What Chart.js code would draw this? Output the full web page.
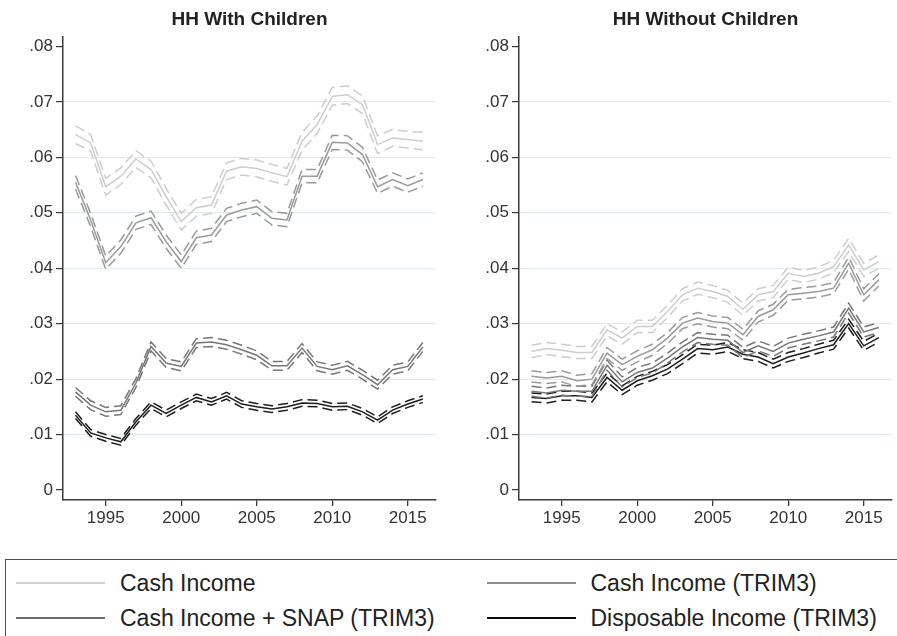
<!DOCTYPE html>
<html>
<head>
<meta charset="utf-8">
<script src="https://cdn.jsdelivr.net/npm/chart.js@4.4.1/dist/chart.umd.min.js"></script>
<style>
  html, body { margin: 0; padding: 0; background: #fff; width: 897px; height: 636px; overflow: hidden; }
  #left  { position: absolute; left: 0;     top: 0; }
  #right { position: absolute; left: 456px; top: 0; }
  .legend { position: absolute; left: 5px; top: 559px; width: 900px; height: 90px;
            border: 1.5px solid #4d4d4d; box-sizing: border-box;
            font-family: "Liberation Sans", Arial, sans-serif; font-size: 23px; color: #222; }
  .item { position: absolute; height: 30px; width: 420px; }
  .swatch { position: absolute; left: 0; top: 14px; width: 89px; height: 0; border-top: 2px solid; }
  .label { position: absolute; left: 104px; top: 0; line-height: 30px; white-space: nowrap; }
</style>
</head>
<body>
<canvas id="left" width="448" height="540"></canvas>
<canvas id="right" width="441" height="540"></canvas>
<div class="legend" id="legend"></div>

<script>
// ---- data ----------------------------------------------------------------
const years = [1993, 1994, 1995, 1996, 1997, 1998, 1999, 2000, 2001, 2002, 2003, 2004,
               2005, 2006, 2007, 2008, 2009, 2010, 2011, 2012, 2013, 2014, 2015, 2016];

const seriesNames = ['Cash Income', 'Cash Income (TRIM3)', 'Cash Income + SNAP (TRIM3)', 'Disposable Income (TRIM3)'];
const panelTitles = ['HH With Children', 'HH Without Children'];

const xTicks = [1995, 2000, 2005, 2010, 2015];
const yTicks = [0, 0.01, 0.02, 0.03, 0.04, 0.05, 0.06, 0.07, 0.08];
const yTickLabels = ['0', '.01', '.02', '.03', '.04', '.05', '.06', '.07', '.08'];

// HH with children: estimate and 95% bounds
const kidsCash     = [.0641,.0626,.0547,.0566,.0597,.0578,.0529,.0484,.0509,.0514,.0575,.0583,.0580,.0572,.0565,.0629,.0659,.0710,.0713,.0695,.0623,.0635,.0632,.0629];
const kidsCashHi   = [.0657,.0641,.0562,.0581,.0612,.0593,.0544,.0499,.0524,.0529,.0590,.0598,.0595,.0587,.0580,.0645,.0675,.0726,.0729,.0711,.0639,.0650,.0647,.0645];
const kidsCashLo   = [.0625,.0611,.0532,.0551,.0582,.0563,.0514,.0469,.0494,.0499,.0560,.0568,.0565,.0557,.0550,.0613,.0643,.0694,.0697,.0679,.0607,.0620,.0617,.0613];

const kidsTrim     = [.0555,.0487,.0410,.0439,.0482,.0491,.0448,.0412,.0455,.0460,.0496,.0505,.0511,.0490,.0487,.0566,.0566,.0627,.0626,.0605,.0547,.0560,.0549,.0560];
const kidsTrimHi   = [.0567,.0499,.0422,.0451,.0494,.0503,.0460,.0424,.0467,.0472,.0508,.0517,.0523,.0502,.0499,.0578,.0578,.0640,.0639,.0618,.0559,.0572,.0561,.0572];
const kidsTrimLo   = [.0543,.0475,.0398,.0427,.0470,.0479,.0436,.0400,.0443,.0448,.0484,.0493,.0499,.0478,.0475,.0554,.0554,.0614,.0613,.0592,.0535,.0548,.0537,.0548];

const kidsSnap     = [.0177,.0153,.0141,.0144,.0193,.0259,.0229,.0223,.0265,.0267,.0262,.0253,.0243,.0224,.0224,.0256,.0223,.0217,.0224,.0208,.0190,.0217,.0223,.0258];
const kidsSnapHi   = [.0185,.0161,.0149,.0152,.0201,.0267,.0237,.0231,.0273,.0275,.0270,.0261,.0251,.0232,.0232,.0264,.0231,.0225,.0232,.0216,.0198,.0225,.0231,.0266];
const kidsSnapLo   = [.0169,.0145,.0133,.0136,.0185,.0251,.0221,.0215,.0257,.0259,.0254,.0245,.0235,.0216,.0216,.0248,.0215,.0209,.0216,.0200,.0182,.0209,.0215,.0250];

const kidsDisp     = [.0135,.0103,.0094,.0087,.0123,.0153,.0138,.0153,.0167,.0159,.0170,.0155,.0150,.0146,.0150,.0157,.0156,.0150,.0151,.0141,.0126,.0144,.0155,.0164];
const kidsDispHi   = [.0141,.0109,.0100,.0093,.0129,.0159,.0144,.0159,.0173,.0165,.0176,.0161,.0156,.0152,.0156,.0163,.0162,.0156,.0157,.0147,.0132,.0150,.0161,.0170];
const kidsDispLo   = [.0129,.0097,.0088,.0081,.0117,.0147,.0132,.0147,.0161,.0153,.0164,.0149,.0144,.0140,.0144,.0151,.0150,.0144,.0145,.0135,.0120,.0138,.0149,.0158];

// HH without children: estimate and 95% bounds
const noKidsCash   = [.0250,.0255,.0252,.0248,.0248,.0289,.0274,.0295,.0295,.0322,.0352,.0364,.0358,.0349,.0326,.0352,.0358,.0391,.0385,.0391,.0403,.0442,.0397,.0412];
const noKidsCashHi = [.0261,.0266,.0263,.0259,.0259,.0300,.0285,.0306,.0306,.0333,.0363,.0375,.0369,.0360,.0337,.0363,.0369,.0402,.0396,.0402,.0414,.0454,.0409,.0424];
const noKidsCashLo = [.0239,.0244,.0241,.0237,.0237,.0278,.0263,.0284,.0284,.0311,.0341,.0353,.0347,.0338,.0315,.0341,.0347,.0380,.0374,.0380,.0392,.0430,.0385,.0400];

const noKidsTrim   = [.0205,.0202,.0205,.0197,.0200,.0247,.0226,.0241,.0253,.0274,.0301,.0310,.0304,.0301,.0280,.0313,.0325,.0352,.0355,.0358,.0364,.0409,.0352,.0379];
const noKidsTrimHi = [.0215,.0212,.0215,.0207,.0210,.0257,.0236,.0251,.0263,.0284,.0311,.0320,.0314,.0311,.0290,.0323,.0335,.0362,.0365,.0368,.0374,.0420,.0363,.0390];
const noKidsTrimLo = [.0195,.0192,.0195,.0187,.0190,.0237,.0216,.0231,.0243,.0264,.0291,.0300,.0294,.0291,.0270,.0303,.0315,.0342,.0345,.0348,.0354,.0398,.0341,.0368];

const noKidsSnap   = [.0178,.0175,.0180,.0178,.0178,.0225,.0195,.0212,.0220,.0238,.0258,.0275,.0272,.0270,.0248,.0260,.0250,.0265,.0272,.0278,.0285,.0328,.0285,.0293];
const noKidsSnapHi = [.0187,.0184,.0189,.0187,.0187,.0234,.0204,.0221,.0229,.0247,.0267,.0284,.0281,.0279,.0257,.0269,.0259,.0274,.0281,.0287,.0294,.0337,.0294,.0302];
const noKidsSnapLo = [.0169,.0166,.0171,.0169,.0169,.0216,.0186,.0203,.0211,.0229,.0249,.0266,.0263,.0261,.0239,.0251,.0241,.0256,.0263,.0269,.0276,.0319,.0276,.0284];

const noKidsDisp   = [.0167,.0165,.0170,.0170,.0167,.0203,.0180,.0197,.0206,.0218,.0236,.0255,.0253,.0258,.0245,.0240,.0228,.0240,.0247,.0255,.0262,.0300,.0260,.0275];
const noKidsDispHi = [.0175,.0173,.0178,.0178,.0175,.0211,.0188,.0205,.0214,.0226,.0244,.0263,.0261,.0266,.0253,.0248,.0236,.0248,.0255,.0263,.0270,.0308,.0268,.0283];
const noKidsDispLo = [.0159,.0157,.0162,.0162,.0159,.0195,.0172,.0189,.0198,.0210,.0228,.0247,.0245,.0250,.0237,.0232,.0220,.0232,.0239,.0247,.0254,.0292,.0252,.0267];

// ---- styling ---------------------------------------------------------------
const seriesColors = ['#cdcdcd', '#9a9a9a', '#777777', '#1e1e1e'];
const legendColors = ['#d2d2d2', '#8e8e8e', '#6b6b6b', '#0a0a0a'];
const FONT = '"Liberation Sans", Arial, sans-serif';
const AXIS = '#3a3a3a';

const toPoints = arr => arr.map((v, i) => ({ x: years[i], y: v }));

function buildDatasets(groups) {
  const out = [];
  groups.forEach((g, k) => {
    const c = seriesColors[k];
    const base = { borderColor: c, borderWidth: 1.5, pointRadius: 0, tension: 0, fill: false };
    out.push(Object.assign({ label: seriesNames[k] + ' upper', data: toPoints(g[1]), borderDash: [10, 5] }, base));
    out.push(Object.assign({ label: seriesNames[k] + ' lower', data: toPoints(g[2]), borderDash: [10, 5] }, base));
    out.push(Object.assign({ label: seriesNames[k], data: toPoints(g[0]) }, base));
  });
  return out;
}

// Panel heading centred over the plotting area
const panelTitle = {
  id: 'panelTitle',
  afterDraw(chart, args, opts) {
    const { ctx, chartArea } = chart;
    ctx.save();
    ctx.font = 'bold 19px ' + FONT;
    ctx.fillStyle = '#222';
    ctx.textAlign = 'center';
    ctx.textBaseline = 'middle';
    ctx.fillText(opts.text, (chartArea.left + chartArea.right) / 2, 20);
    ctx.restore();
  }
};

function makePanel(id, groups, title, padRight) {
  return new Chart(document.getElementById(id), {
    type: 'line',
    data: { datasets: buildDatasets(groups) },
    plugins: [panelTitle],
    options: {
      responsive: false,
      animation: false,
      devicePixelRatio: 1,
      layout: { padding: { top: 37, right: padRight, bottom: 0, left: 0 } },
      plugins: {
        legend: { display: false },
        tooltip: { enabled: false },
        panelTitle: { text: title }
      },
      scales: {
        x: {
          type: 'linear',
          min: 1992.17,
          max: 2016.87,
          afterBuildTicks: s => { s.ticks = xTicks.map(v => ({ value: v })); },
          afterFit: s => { s.height = 40; },
          ticks: { font: { family: FONT, size: 17 }, color: '#333', padding: 2, maxRotation: 0,
                   callback: v => String(v) },
          grid: { drawOnChartArea: false, tickLength: 6, tickColor: AXIS, lineWidth: 1.3 },
          border: { display: true, color: AXIS, width: 1.5 }
        },
        y: {
          type: 'linear',
          min: -0.0018,
          max: 0.0817,
          afterBuildTicks: s => { s.ticks = yTicks.map(v => ({ value: v })); },
          afterFit: s => { s.width = 63; },
          ticks: { font: { family: FONT, size: 17 }, color: '#333', padding: 3,
                   callback: (v, i) => yTickLabels[i] },
          grid: {
            drawOnChartArea: true,
            tickLength: 7,
            tickColor: AXIS,
            lineWidth: 1.2,
            color: ctx => (ctx.tick && (ctx.tick.value === yTicks[0] || ctx.tick.value === yTicks[yTicks.length - 1]))
              ? 'rgba(0,0,0,0)' : '#e2ecef'
          },
          border: { display: true, color: AXIS, width: 1.5 }
        }
      }
    }
  });
}

makePanel('left', [
  [kidsCash, kidsCashHi, kidsCashLo],
  [kidsTrim, kidsTrimHi, kidsTrimLo],
  [kidsSnap, kidsSnapHi, kidsSnapLo],
  [kidsDisp, kidsDispHi, kidsDispLo]
], panelTitles[0], 12);

makePanel('right', [
  [noKidsCash, noKidsCashHi, noKidsCashLo],
  [noKidsTrim, noKidsTrimHi, noKidsTrimLo],
  [noKidsSnap, noKidsSnapHi, noKidsSnapLo],
  [noKidsDisp, noKidsDispHi, noKidsDispLo]
], panelTitles[1], 5);

// ---- shared legend -----------------------------------------------------------
const legendPos = [[10, 7.5], [480.5, 7.5], [10, 42.5], [480.5, 42.5]];
const legendEl = document.getElementById('legend');
seriesNames.forEach((name, k) => {
  const item = document.createElement('div');
  item.className = 'item';
  item.style.left = legendPos[k][0] + 'px';
  item.style.top = legendPos[k][1] + 'px';
  const sw = document.createElement('div');
  sw.className = 'swatch';
  sw.style.borderTopColor = legendColors[k];
  const lab = document.createElement('div');
  lab.className = 'label';
  lab.textContent = name;
  item.appendChild(sw);
  item.appendChild(lab);
  legendEl.appendChild(item);
});
</script>
</body>
</html>
